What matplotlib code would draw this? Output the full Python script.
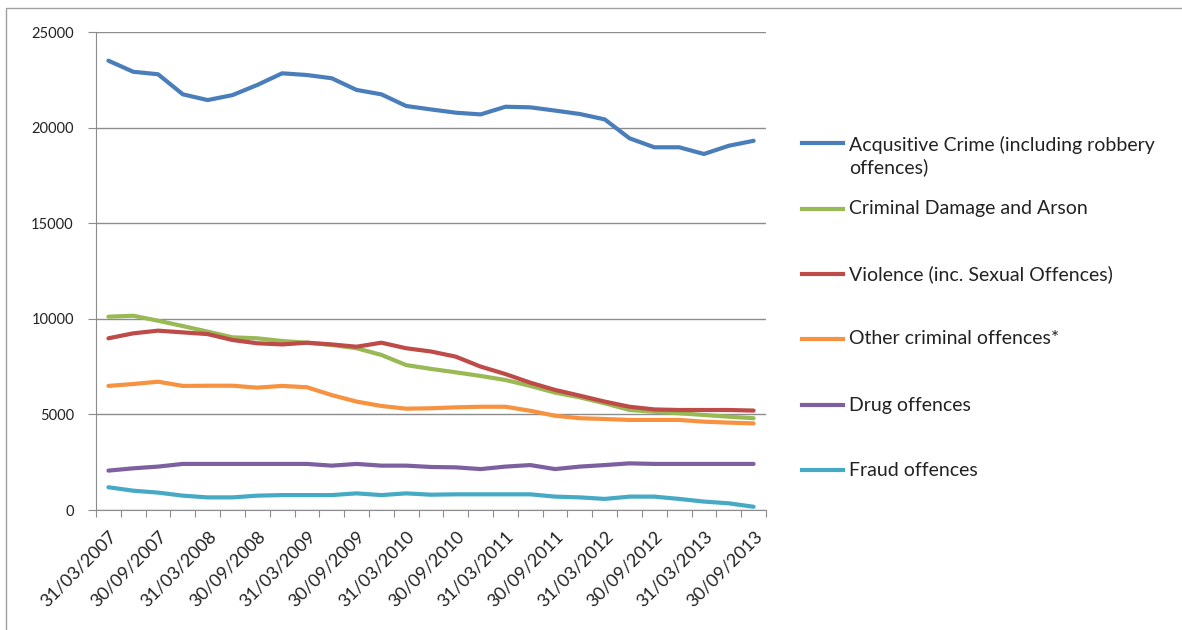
import numpy as np
import matplotlib
matplotlib.use("Agg")
from matplotlib import pyplot as plt
from matplotlib.lines import Line2D
from matplotlib.patches import Rectangle

plt.rcParams['font.family'] = ['Lato', 'DejaVu Sans']

# quarterly periods, one label every half year
quarters = ["31/03/2007", "30/06/2007", "30/09/2007", "31/12/2007",
            "31/03/2008", "30/06/2008", "30/09/2008", "31/12/2008",
            "31/03/2009", "30/06/2009", "30/09/2009", "31/12/2009",
            "31/03/2010", "30/06/2010", "30/09/2010", "31/12/2010",
            "31/03/2011", "30/06/2011", "30/09/2011", "31/12/2011",
            "31/03/2012", "30/06/2012", "30/09/2012", "31/12/2012",
            "31/03/2013", "30/06/2013", "30/09/2013"]

acquisitive = [23500, 22920, 22790, 21740, 21440, 21700, 22230, 22840, 22750,
               22580, 21970, 21740, 21130, 20950, 20780, 20690, 21090, 21060,
               20890, 20710, 20430, 19440, 18970, 18970, 18620, 19050, 19310]
criminal_damage = [10110, 10160, 9900, 9620, 9330, 9030, 8980, 8840, 8750,
                   8630, 8460, 8110, 7580, 7380, 7200, 7010, 6800, 6490,
                   6140, 5890, 5580, 5230, 5140, 5060, 4970, 4880, 4800]
violence = [8980, 9240, 9380, 9290, 9200, 8890, 8720, 8660, 8750,
            8660, 8540, 8750, 8460, 8290, 8020, 7500, 7110, 6660,
            6280, 5980, 5670, 5400, 5260, 5230, 5230, 5230, 5200]
other = [6490, 6590, 6710, 6490, 6500, 6500, 6400, 6490, 6420,
         6010, 5670, 5440, 5300, 5320, 5370, 5400, 5400, 5190,
         4930, 4800, 4760, 4710, 4710, 4710, 4620, 4570, 4530]
drug = [2060, 2180, 2270, 2410, 2410, 2410, 2410, 2410, 2410,
        2320, 2410, 2320, 2320, 2250, 2230, 2140, 2270, 2350,
        2140, 2270, 2350, 2440, 2410, 2410, 2410, 2410, 2410]
fraud = [1190, 1010, 910, 750, 660, 660, 750, 780, 780,
         780, 870, 780, 870, 800, 820, 820, 820, 820,
         700, 660, 580, 700, 700, 580, 440, 350, 170]

series_names = ["Acqusitive Crime (including robbery\noffences)",
                "Criminal Damage and Arson",
                "Violence (inc. Sexual Offences)",
                "Other criminal offences*",
                "Drug offences",
                "Fraud offences"]
series_values = [acquisitive, criminal_damage, violence, other, drug, fraud]
colors = ["#4A7EBB", "#98B954", "#BE4B48", "#F69240", "#7D60A0", "#46AAC5"]

W, H = 1182, 630
fig = plt.figure(figsize=(W / 100, H / 100), dpi=100)
ax = fig.add_axes([96 / W, 1 - 510 / H, 670 / W, 478 / H])

# outer chart border
fig.add_artist(Rectangle((6 / W, -0.1), 1.2, 1 - 8 / H + 0.1, transform=fig.transFigure,
                         fill=False, edgecolor="#A0A0A0", lw=1))

x = np.arange(len(quarters))
for vals, col in zip(series_values, colors):
    ax.plot(x, vals, color=col, lw=3, solid_capstyle='round', solid_joinstyle='round')

ax.set_xlim(-0.5, len(quarters) - 0.5)
ax.set_ylim(0, 25000)
ax.set_yticks(np.arange(0, 25001, 5000))
ax.yaxis.grid(True, color="#8C8C8C", lw=1)
ax.set_axisbelow(True)

# tick marks at category boundaries, labels every second quarter
ax.set_xticks(np.arange(-0.5, len(quarters), 1))
ax.set_xticklabels([])
ax.set_xticks(x[::2], minor=True)
ax.set_xticklabels(quarters[::2], minor=True, rotation=45, ha='right',
                   rotation_mode='anchor', fontsize=13, color="#222222")
ax.tick_params(axis='x', which='major', length=5, color="#8C8C8C", direction='out')
ax.tick_params(axis='x', which='minor', length=0, pad=13)
ax.tick_params(axis='y', length=6, color="#8C8C8C", labelsize=10.5, labelcolor="#222222", pad=10)

for side in ['top', 'right']:
    ax.spines[side].set_visible(False)
for side in ['left', 'bottom']:
    ax.spines[side].set_color("#8C8C8C")

# legend on the right
legend_y = [143, 209, 274, 339, 405, 470]
for name, col, ly in zip(series_names, colors, legend_y):
    fy = 1 - ly / H
    fig.add_artist(Line2D([802 / W, 843 / W], [fy, fy], transform=fig.transFigure,
                          color=col, lw=3))
    ty = ly + 13 if '\n' in name else ly
    fig.text(849 / W, 1 - ty / H, name, fontsize=14, color="#222222", va='center',
             linespacing=1.3)

plt.savefig("out.png", dpi=100)
